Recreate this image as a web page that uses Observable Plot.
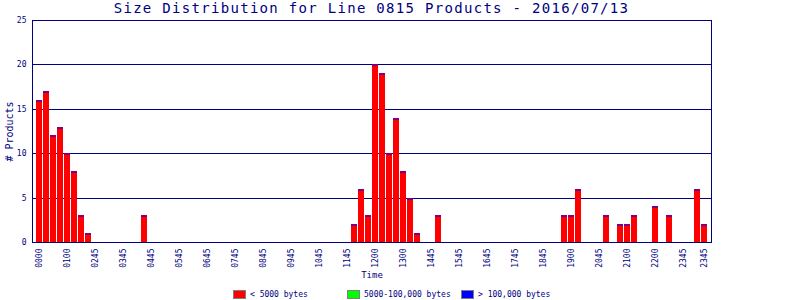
<!DOCTYPE html>
<html>
<head>
<meta charset="utf-8">
<script src="https://cdn.jsdelivr.net/npm/d3@7"></script>
<script src="https://cdn.jsdelivr.net/npm/@observablehq/plot@0.6"></script>
<style>
  html, body { margin: 0; padding: 0; background: #fff; }
  #wrap { position: relative; width: 800px; height: 300px; overflow: hidden; font-family: "DejaVu Sans Mono", monospace; color: #000080; }
  #title { width: 743px; height: 18px; line-height: 17px; text-align: center; font-size: 14px; letter-spacing: 1.3px; white-space: nowrap; }
  #chart svg { display: block; }
  #legend { position: relative; height: 12px; font-size: 8px; }
  .item { position: absolute; top: 0; height: 12px; display: flex; align-items: center; white-space: nowrap; }
  .box { width: 11px; height: 7px; border: 1px solid #808080; margin-right: 4px; }
</style>
</head>
<body>
<div id="wrap">
  <div id="title"></div>
  <div id="chart"></div>
  <div id="legend"></div>
</div>
<script>
const titleText = "Size Distribution for Line 0815 Products - 2016/07/13";
const yLabel = "# Products";
const xLabel = "Time";

// time bins (categories), in order
const times = [
  "0000","0015","0030","0045","0100","0115","0130","0145",
  "0245","0300","0315","0330","0345","0400","0415","0430",
  "0445","0500","0515","0530","0545","0600","0615","0630",
  "0645","0700","0715","0730","0745","0800","0815","0830",
  "0845","0900","0915","0930","0945","1000","1015","1030",
  "1045","1100","1115","1130","1145","1148","1152","1156",
  "1200","1215","1230","1245","1300","1315","1330","1400",
  "1445","1500","1515","1530","1545","1600","1615","1630",
  "1645","1700","1715","1730","1745","1800","1815","1830",
  "1845","1850","1853","1856","1900","1915","1930","2030",
  "2045","2048","2052","2056","2100","2115","2130","2145",
  "2200","2215","2230","2245","2345","2345","2345","2345"
];

// number of products per bin
const counts = [
  16,17,12,13,10,8,3,1,
  0,0,0,0,0,0,0,3,
  0,0,0,0,0,0,0,0,
  0,0,0,0,0,0,0,0,
  0,0,0,0,0,0,0,0,
  0,0,0,0,0,2,6,3,
  20,19,10,14,8,5,1,0,
  0,3,0,0,0,0,0,0,
  0,0,0,0,0,0,0,0,
  0,0,0,3,3,6,0,0,
  0,3,0,2,2,3,0,0,
  4,0,3,0,0,0,6,2
];

// which bins carry a tick label
const labeledBins = [0,4,8,12,16,20,24,28,32,36,40,44,48,52,56,60,64,68,72,76,80,84,88,92,95];
const yTicks = [0,5,10,15,20,25];

const legendLabels = ["< 5000 bytes", "5000-100,000 bytes", "> 100,000 bytes"];
const legendColors = ["#ff0000", "#00ff00", "#0000ff"];

const navy = "#000080";
const rows = times.map((t, i) => ({i, t, n: counts[i]}));

document.getElementById("title").textContent = titleText;

const chart = Plot.plot({
  width: 800,
  height: 270,
  marginLeft: 32,
  marginRight: 89,
  marginTop: 2,
  marginBottom: 46,
  style: {fontFamily: "DejaVu Sans Mono, monospace", color: navy, background: "white", overflow: "visible"},
  x: {type: "band", domain: d3.range(times.length), paddingInner: 1/7, paddingOuter: 4/7, align: 0.5, round: false},
  y: {domain: [0, 25], round: true},
  marks: [
    Plot.gridY(yTicks.filter(v => v > 0 && v < 25), {stroke: navy, strokeOpacity: 1, shapeRendering: "crispEdges"}),
    Plot.barY(rows, {x: "i", y: "n", fill: "#ff0000"}),
    Plot.tickY(rows.filter(d => d.n > 0), {x: "i", y: "n", stroke: "#0000ff", strokeWidth: 1, dy: 0.5}),
    Plot.frame({stroke: navy, shapeRendering: "crispEdges"}),
    Plot.axisY(yTicks, {tickSize: 0, tickPadding: 6, fontSize: 8, label: null}),
    Plot.axisX(labeledBins, {tickSize: 0, tickPadding: 6, tickRotate: -90, tickFormat: i => times[i], fontSize: 8, label: null}),
    Plot.text([yLabel], {text: d => d, frameAnchor: "left", rotate: -90, dx: -23, textAnchor: "middle", fontSize: 10, fill: navy}),
    Plot.text([xLabel], {text: d => d, frameAnchor: "bottom", dy: 35, textAnchor: "middle", fontSize: 9, fill: navy})
  ]
});
document.getElementById("chart").appendChild(chart);

const legend = document.getElementById("legend");
const legendX = [233, 347, 461];
legendLabels.forEach((lab, k) => {
  const item = document.createElement("div");
  item.className = "item";
  item.style.left = legendX[k] + "px";
  const box = document.createElement("span");
  box.className = "box";
  box.style.background = legendColors[k];
  const txt = document.createElement("span");
  txt.textContent = lab;
  item.appendChild(box);
  item.appendChild(txt);
  legend.appendChild(item);
});
</script>
</body>
</html>
